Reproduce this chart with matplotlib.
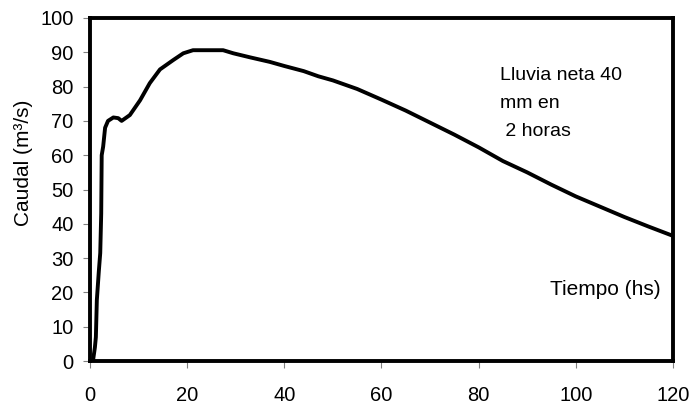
import matplotlib
matplotlib.use("Agg")
import matplotlib.pyplot as plt

plt.rcParams['font.family'] = ['Liberation Sans', 'DejaVu Sans']

# Hidrograma: tiempo (hs) y caudal (m3/s)
tiempo = [0, 0.6, 1.0, 1.2, 1.4, 1.8, 2.1, 2.3, 2.4, 2.7, 3.1, 3.7, 4.8, 5.8, 6.5,
          8.2, 10.3, 12.3, 14.4, 17.1, 19.2, 21.2, 24, 27.4, 29.5, 33, 37, 40,
          44, 47, 50, 55, 60, 65, 70, 75, 80, 85, 90, 95, 100, 105, 110, 115, 120]
caudal = [0, 0, 4, 7, 17.8, 26, 31.5, 43, 60, 62.5, 68, 70, 71, 70.8, 70,
          71.7, 76, 81, 85, 87.7, 89.7, 90.6, 90.6, 90.6, 89.7, 88.5, 87.2, 86,
          84.5, 83, 81.8, 79.3, 76.2, 73, 69.5, 66, 62.3, 58.3, 55, 51.4, 48,
          45, 42, 39.2, 36.5]

y_ticks = list(range(0, 101, 10))
x_ticks = [0, 20, 40, 60, 80, 100, 120]

fig = plt.figure(figsize=(6.98, 4.08), dpi=100)
ax = fig.add_axes([0.129, 0.115, 0.835, 0.841])

ax.plot(tiempo, caudal, color='black', lw=2.8, solid_joinstyle='round')

ax.set_xlim(0, 120)
ax.set_ylim(0, 100)
ax.set_xticks(x_ticks)
ax.set_yticks(y_ticks)
ax.tick_params(direction='out', length=5, width=0.8, color='#808080',
               labelsize=14.5)
ax.tick_params(axis='y', pad=7)
ax.tick_params(axis='x', pad=13)
for s in ax.spines.values():
    s.set_linewidth(2.8)
    s.set_color('black')

ax.set_ylabel('Caudal (m³/s)', fontsize=15)
ax.yaxis.set_label_coords(-0.098, 0.578)

ax.text(84.4, 85.8, 'Lluvia neta 40\nmm en\n 2 horas', fontsize=14,
        va='top', ha='left', linespacing=1.85)
ax.text(94.7, 21.0, 'Tiempo (hs)', fontsize=15, va='center', ha='left')

fig.savefig('out.png', dpi=100)
